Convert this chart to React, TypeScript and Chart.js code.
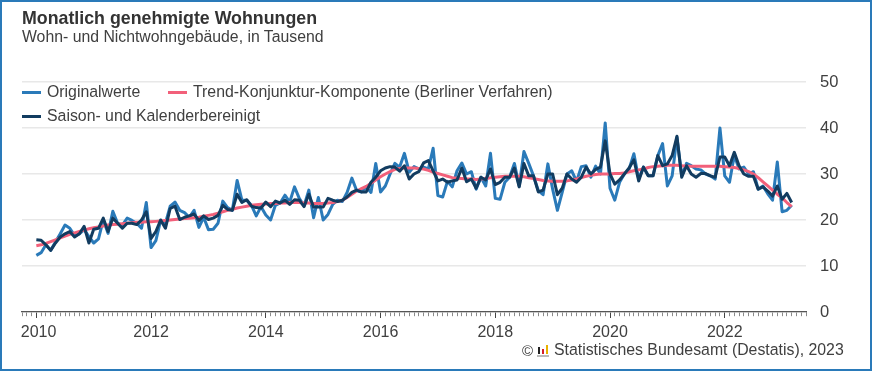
import React, { useEffect, useRef } from "react";
import { Chart, registerables } from "chart.js";

Chart.register(...registerables);

const FIRST_YEAR = 2009;
const FIRST_MONTH = 9; // October 2009 (axis starts before the data)
const MONTH_COUNT = 165;
const LEADING_EMPTY = 3;

const categories: string[] = [];
for (let i = 0; i < MONTH_COUNT; i++) {
  const t = FIRST_YEAR * 12 + FIRST_MONTH + i;
  categories.push(`${Math.floor(t / 12)}-${String((t % 12) + 1).padStart(2, "0")}`);
}

const originalwerte = [
  12.3, 12.9, 14.6, 13.4, 15.2, 17, 18.9, 18.2, 16.6, 17, 17.9, 16.4,
  15, 15.9, 20, 17.1, 21.9, 19.3, 18.9, 20.4, 19.9, 19.3, 18.2, 23.8,
  14, 15.5, 19.9, 19.3, 23, 23.9, 22.1, 21.6, 20.6, 22.1, 18.4, 20.6,
  17.9, 18, 19.3, 24.1, 22.7, 22.1, 28.6, 24.3, 24.3, 23.2, 20.9, 22.9,
  21.1, 20, 23.2, 23.7, 25.4, 23.9, 27.2, 24.7, 23.1, 26.5, 20.5, 24.9,
  20, 21.2, 23.4, 24.3, 24, 26, 29.1, 26.4, 26.1, 27.2, 26, 32.3,
  26.1, 27.4, 30, 32.3, 31.5, 34.5, 30.4, 31.6, 31.1, 31.5, 31.1, 35.6,
  25.3, 25, 28.4, 27.2, 30.7, 32.4, 30, 30.5, 26.7, 29.3, 27.4, 34.5,
  24.7, 24.5, 28.2, 29.3, 32.3, 27.4, 34.9, 32.3, 29.6, 26.4, 25.5, 32.2,
  26.7, 22.1, 26, 30, 30.7, 28.4, 31.6, 31.8, 29.3, 31.7, 30, 41.1,
  26.9, 24.3, 28.2, 30, 31.1, 34.4, 28.9, 31.5, 29.6, 29.6, 34, 36.6,
  27.4, 29.6, 38, 29.6, 32.3, 31.8, 31.1, 30.9, 30, 29.6, 28.9, 40,
  29.6, 28.2, 34, 31.1, 31.5, 30, 30.5, 26.7, 27.4, 25.7, 24.3, 32.6,
  21.8, 22.1, 23.2,
];

const trend = [
  14.4, 14.6, 14.9, 15.3, 15.7, 16.1, 16.5, 16.9, 17.2, 17.5, 17.8, 18.1,
  18.3, 18.5, 18.7, 18.9, 19, 19.1, 19.2, 19.3, 19.4, 19.5, 19.5, 19.6,
  19.6, 19.7, 19.8, 19.9, 20, 20.1, 20.2, 20.3, 20.4, 20.5, 20.6, 20.8,
  21, 21.2, 21.5, 21.8, 22.1, 22.3, 22.6, 22.8, 23, 23.2, 23.3, 23.4,
  23.5, 23.6, 23.6, 23.7, 23.7, 23.8, 23.8, 23.8, 23.7, 23.7, 23.6, 23.6,
  23.6, 23.7, 23.8, 24, 24.3, 24.9, 25.6, 26.3, 26.8, 27.3, 28, 28.7,
  29.4, 30, 30.5, 31, 31.2, 31.3, 31.3, 31.3, 31.2, 31.1, 30.8, 30.4,
  30.1, 29.8, 29.5, 29.2, 29.1, 29, 28.9, 28.9, 28.8, 28.9, 29, 29.2,
  29.3, 29.4, 29.5, 29.5, 29.5, 29.5, 29.4, 29.2, 29, 28.8, 28.6, 28.5,
  28.4, 28.4, 28.4, 28.5, 28.7, 28.9, 29.2, 29.5, 29.7, 29.9, 30, 30,
  30, 30.1, 30.1, 30.2, 30.5, 30.7, 30.9, 31.1, 31.4, 31.6, 31.7, 31.8,
  31.9, 31.9, 31.9, 31.8, 31.7, 31.7, 31.7, 31.7, 31.7, 31.7, 31.7, 31.7,
  31.6, 31.5, 31.4, 31.2, 30.9, 30.5, 30, 29.2, 28.3, 27.4, 26.5, 25.6,
  24.8, 23.8, 22.9,
];

const saisonbereinigt = [
  15.7, 15.6, 14.6, 13.4, 15, 16.3, 17, 17.5, 16.3, 17, 18.6, 15,
  18, 18.2, 20.4, 17.5, 20.4, 19.3, 18.2, 19.3, 19.3, 19, 20, 21.8,
  16, 17.5, 20, 18.2, 22.5, 23, 20.1, 20.6, 20.9, 21.3, 19.9, 20.9,
  20.1, 20.4, 21, 23.2, 22.3, 22.1, 25.6, 23.8, 24.4, 23, 22.7, 22.6,
  23.9, 22.9, 24.1, 23.7, 24.3, 23.4, 24.4, 24.3, 22.9, 25.6, 22.8, 22.8,
  22.8, 24.7, 24.3, 24, 24.3, 25, 26, 26.5, 26.1, 26.1, 28.2, 29.3,
  30.7, 31.3, 31.6, 31.5, 30.6, 31.8, 28.9, 30, 30.5, 32.4, 32.9, 30.7,
  28.5, 28.9, 28.2, 28.5, 28.7, 31.3, 28.3, 28.9, 26.9, 29.3, 28.7, 31.1,
  27.7, 28.2, 29.3, 29.3, 31.3, 27.2, 32.3, 29.6, 29.6, 26.1, 26.5, 30,
  30, 25.5, 26.9, 30, 28.9, 28.2, 29.3, 31.5, 30, 31, 31.5, 37.2,
  30, 27.8, 28.7, 30, 31.3, 33.1, 28.5, 31.5, 29.6, 29.6, 34, 31.8,
  32.2, 34, 38.2, 29.3, 31.8, 30, 29.3, 30.1, 30.1, 29.6, 29.3, 33.7,
  33.7, 31.8, 34.7, 31.8, 30, 29.5, 29.5, 26.7, 27.2, 26.3, 25.2, 27.4,
  24.5, 25.8, 23.8,
];

const BLUE = "#2a7ab9";
const PINK = "#f2607a";
const NAVY = "#123c60";
const TEXT = "#404040";
const FONT = '"Liberation Sans", Arial, sans-serif';

const pad = (v: number[]) => [...Array(LEADING_EMPTY).fill(null), ...v];

const isMajor = (index: number) => {
  const l = categories[index] || "";
  return l.endsWith("-01") && Number(l.slice(0, 4)) % 2 === 0;
};

const legendItems = [
  { label: "Originalwerte", color: BLUE, x: 22, y: 92, textX: 47 },
  { label: "Trend-Konjunktur-Komponente (Berliner Verfahren)", color: PINK, x: 168, y: 92, textX: 193 },
  { label: "Saison- und Kalenderbereinigt", color: NAVY, x: 22, y: 116, textX: 47 },
];

const abs = (left: number, top: number, extra: React.CSSProperties = {}): React.CSSProperties => ({
  position: "absolute",
  left,
  top,
  whiteSpace: "nowrap",
  fontFamily: FONT,
  color: TEXT,
  ...extra,
});

export default function App() {
  const ref = useRef<HTMLCanvasElement>(null);

  useEffect(() => {
    const chart = new Chart(ref.current!, {
      type: "line",
      data: {
        labels: categories,
        datasets: [
          { label: "Originalwerte", data: pad(originalwerte), borderColor: BLUE, borderWidth: 3, order: 3 },
          { label: "Trend-Konjunktur-Komponente (Berliner Verfahren)", data: pad(trend), borderColor: PINK, borderWidth: 3, order: 2 },
          { label: "Saison- und Kalenderbereinigt", data: pad(saisonbereinigt), borderColor: NAVY, borderWidth: 3, order: 1 },
        ],
      },
      options: {
        responsive: false,
        animation: false,
        events: [],
        layout: { padding: { left: 22, top: 82, right: 0, bottom: 0 } },
        elements: { point: { radius: 0 }, line: { tension: 0, borderJoinStyle: "round" } },
        plugins: { legend: { display: false }, title: { display: false }, tooltip: { enabled: false } },
        scales: {
          x: {
            type: "category",
            offset: false,
            border: { display: true, color: "#555555", width: 1.2 },
            grid: {
              drawOnChartArea: false,
              drawTicks: true,
              tickLength: 6,
              tickWidth: 1,
              tickColor: (c: any) => (isMajor(c.index) ? "#444444" : "#8a8a8a"),
              tickBorderDash: (c: any) => (isMajor(c.index) ? [] : [4, 20]),
            },
            ticks: {
              autoSkip: false,
              maxRotation: 0,
              minRotation: 0,
              padding: 5,
              color: TEXT,
              font: { family: FONT, size: 16 },
              callback: (_v: any, i: number) => {
                if (!isMajor(i)) return "";
                const year = categories[i].slice(0, 4);
                return i === LEADING_EMPTY ? ` ${year}` : year;
              },
            },
            afterFit: (s: any) => {
              s.height = 59;
            },
          },
          y: {
            position: "right",
            min: 0,
            max: 50,
            border: { display: false },
            grid: { color: "#e8e8e8", lineWidth: 1.6, drawTicks: false },
            ticks: {
              stepSize: 10,
              padding: 14,
              color: TEXT,
              font: { family: FONT, size: 16.5 },
            },
            afterFit: (s: any) => {
              s.width = 66;
            },
          },
        },
      },
    } as any);
    return () => chart.destroy();
  }, []);

  return (
    <div style={{ position: "fixed", left: 0, top: 0, width: 872, height: 371, background: "#fff", overflow: "hidden" }}>
      <canvas ref={ref} width={872} height={371} style={{ position: "absolute", left: 0, top: 0, width: 872, height: 371 }} />
      <div style={{ position: "absolute", inset: 0, border: `2.5px solid ${BLUE}`, boxSizing: "border-box", pointerEvents: "none" }} />
      <div style={abs(22, 9, { fontSize: 17.8, fontWeight: 700, lineHeight: "18px", color: "#333" })}>Monatlich genehmigte Wohnungen</div>
      <div style={abs(22, 28, { fontSize: 15.8, lineHeight: "18px" })}>Wohn- und Nichtwohngebäude, in Tausend</div>
      {legendItems.map((it) => (
        <React.Fragment key={it.label}>
          <div style={{ position: "absolute", left: it.x, top: it.y - 1, width: 19, height: 2.5, background: it.color }} />
          <div style={abs(it.textX, it.y - 9, { fontSize: 15.85, lineHeight: "18px" })}>{it.label}</div>
        </React.Fragment>
      ))}
      <div style={abs(522, 343, { fontSize: 15, lineHeight: "16px" })}>©</div>
      <div style={{ position: "absolute", left: 537, top: 345, width: 12, height: 12 }}>
        <div style={{ position: "absolute", left: 1, top: 2, width: 2, height: 7, background: "#222" }} />
        <div style={{ position: "absolute", left: 5, top: 4, width: 2, height: 5, background: "#d4202a" }} />
        <div style={{ position: "absolute", left: 9, top: 0, width: 2, height: 9, background: "#e8b100" }} />
        <div style={{ position: "absolute", left: 0, top: 10, width: 12, height: 2, background: "#bbb" }} />
      </div>
      <div style={abs(554, 341, { fontSize: 15.85, lineHeight: "18px" })}>Statistisches Bundesamt (Destatis), 2023</div>
    </div>
  );
}
